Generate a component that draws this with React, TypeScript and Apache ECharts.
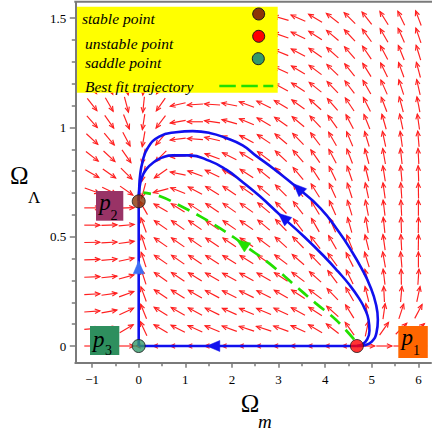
import React, { useEffect, useRef } from "react";
import * as echarts from "echarts";

// ---- direction field grid (Maple-style 20 x 20) ----
const fieldXs = [-1, -0.632, -0.263, 0.105, 0.474, 0.842, 1.211, 1.579, 1.947, 2.316, 2.684, 3.053, 3.421, 3.789, 4.158, 4.526, 4.895, 5.263, 5.632, 6];
const fieldYs = [0, 0.079, 0.158, 0.237, 0.316, 0.395, 0.474, 0.553, 0.632, 0.711, 0.789, 0.868, 0.947, 1.026, 1.105, 1.184, 1.263, 1.342, 1.421, 1.5];
// on-screen arrow angles in degrees (0 = right, 90 = up), one row per fieldYs value (bottom to top)
const fieldAngles = [
  [0, 0, 0, 180, 180, 180, 180, 180, 180, 180, 180, 180, 180, 180, 180, 180, 0, 0, 0, 0],
  [5, 12, 30, 115, 150, 153, 156, 158, 160, 162, 162, 160, 156, 150, 142, 125, 78, 55, 45, 40],
  [4, 10, 25, 112, 148, 150, 152, 154, 156, 157, 157, 155, 151, 147, 138, 122, 98, 82, 72, 62],
  [3, 8, 20, 110, 146, 148, 150, 152, 153, 154, 153, 150, 147, 143, 134, 120, 104, 93, 85, 78],
  [2, 6, 15, 108, 145, 146, 148, 150, 151, 151, 150, 147, 143, 138, 127, 116, 105, 97, 91, 86],
  [2, 5, 12, 108, 145, 145, 146, 147, 148, 148, 146, 143, 139, 134, 126, 117, 107, 100, 95, 90],
  [1, 3, 8, 108, 145, 145, 145, 146, 146, 146, 143, 138, 134, 128, 120, 112, 104, 98, 93, 89],
  [0, 2, 5, 110, 145, 145, 145, 145, 145, 145, 140, 134, 127, 120, 113, 106, 100, 96, 92, 89],
  [0, 0, 2, 120, 150, 148, 147, 146, 145, 145, 140, 134, 128, 121, 114, 107, 101, 97, 93, 90],
  [-20, -25, -35, 255, 195, 158, 152, 148, 146, 145, 140, 135, 128, 122, 115, 108, 102, 98, 94, 91],
  [-30, -35, -45, 258, 215, 168, 160, 154, 150, 147, 141, 135, 130, 123, 116, 109, 104, 99, 95, 92],
  [-38, -43, -55, 258, 225, 183, 170, 160, 153, 148, 143, 137, 131, 125, 118, 111, 105, 100, 96, 93],
  [-43, -50, -62, 260, 230, 187, 176, 167, 158, 152, 146, 140, 134, 127, 120, 113, 107, 102, 98, 95],
  [-48, -55, -68, 261, 233, 190, 180, 172, 164, 157, 150, 145, 140, 133, 126, 118, 112, 106, 102, 98],
  [-52, -60, -75, 264, 235, 193, 184, 176, 169, 160, 154, 149, 144, 138, 131, 124, 117, 111, 105, 101],
  [-55, -63, -77, 264, 237, 195, 186, 178, 171, 163, 157, 152, 147, 141, 134, 127, 120, 114, 108, 103],
  [-58, -65, -79, 264, 237, 197, 188, 180, 173, 166, 160, 155, 149, 143, 136, 129, 122, 116, 110, 105],
  [-60, -67, -81, 265, 237, 198, 189, 182, 175, 168, 162, 158, 152, 145, 138, 131, 124, 118, 112, 107],
  [-62, -69, -82, 265, 237, 199, 190, 183, 176, 170, 165, 161, 154, 147, 140, 133, 126, 120, 114, 109],
  [-63, -70, -83, 266, 237, 200, 191, 184, 178, 172, 167, 164, 156, 149, 142, 135, 128, 122, 116, 111],
];

// ---- trajectories ----
const innerTrajectory = [
  [4.68, 0], [4.8, 0.008], [4.9, 0.03], [4.95, 0.07], [4.93, 0.12], [4.85, 0.17], [4.72, 0.22],
  [4.52, 0.28], [4.28, 0.34], [4.0, 0.405], [3.55, 0.5], [3.03, 0.6], [2.6, 0.685], [2.2, 0.755],
  [1.87, 0.808], [1.52, 0.847], [1.09, 0.872], [0.73, 0.872], [0.5, 0.862], [0.35, 0.845],
  [0.16, 0.808], [0.06, 0.765], [0.015, 0.72], [0, 0.662],
];
const outerTrajectory = [
  [4.68, 0], [4.85, 0.004], [5.0, 0.02], [5.1, 0.06], [5.13, 0.12], [5.09, 0.19], [4.97, 0.27],
  [4.78, 0.355], [4.55, 0.44], [4.3, 0.52], [3.9, 0.63], [3.39, 0.726], [2.9, 0.81], [2.52, 0.87],
  [2.23, 0.918], [1.87, 0.952], [1.52, 0.975], [1.16, 0.983], [0.8, 0.978], [0.44, 0.958],
  [0.19, 0.905], [0.08, 0.84], [0.03, 0.78], [0.01, 0.72], [0, 0.662],
];
const axisTrajectory = [[4.68, 0], [0, 0]];
const verticalTrajectory = [[0, 0], [0, 0.662]];
const bestFitTrajectory = [
  [4.62, 0.03], [4.23, 0.12], [3.8, 0.195], [3.3, 0.287], [2.8, 0.378], [2.3, 0.456],
  [2.07, 0.493], [1.74, 0.539], [1.33, 0.592], [0.92, 0.638], [0.46, 0.685], [0.1, 0.702],
];
// arrowheads [x, y, on-screen angle]
const blueHeads = [[3.42, 0.722, 136], [3.1, 0.588, 140], [1.6, 0, 180]];
const lightBlueHeads = [[0, 0.36, 90]];
const greenHeads = [[2.22, 0.468, 145]];

// ---- critical points ----
const stablePoint = [0, 0.662];
const unstablePoint = [4.68, 0];
const saddlePoint = [0, 0];

// ---- ticks ----
const xMajorTicks = [-1, 0, 1, 2, 3, 4, 5, 6];
const xMinorTicks = [-0.5, 0.5, 1.5, 2.5, 3.5, 4.5, 5.5];
const yMajorTicks = [0, 0.5, 1, 1.5];
const yMinorTicks = [0.1, 0.2, 0.3, 0.4, 0.6, 0.7, 0.8, 0.9, 1.1, 1.2, 1.3, 1.4];

const legendLabels = ["stable point", "unstable point", "saddle point", "Best fit trajectory"];

const SERIF = "'Liberation Serif', 'Times New Roman', serif";

function headRenderer(color: string, len: number, half: number) {
  return (params: any, api: any) => {
    const c = api.coord([api.value(0), api.value(1)]);
    const a = (api.value(2) * Math.PI) / 180;
    const dx = Math.cos(a), dy = -Math.sin(a);
    const px = -dy, py = dx;
    const tip = [c[0] + dx * len * 0.5, c[1] + dy * len * 0.5];
    const back = [c[0] - dx * len * 0.5, c[1] - dy * len * 0.5];
    return {
      type: "polygon",
      shape: { points: [tip, [back[0] + px * half, back[1] + py * half], [back[0] - px * half, back[1] - py * half]] },
      style: { fill: color, stroke: color, lineWidth: 0.5 },
    };
  };
}

export default function App() {
  const ref = useRef<HTMLDivElement>(null);
  useEffect(() => {
    document.body.style.margin = "0";
    const chart = echarts.init(ref.current!, null, { renderer: "svg" });

    const fieldData: number[][] = [];
    fieldYs.forEach((y, r) => fieldXs.forEach((x, c) => fieldData.push([x, y, fieldAngles[r][c]])));

    const xMin = -1.36, xMax = 6.27, yMin = -0.0764, yMax = 1.574;
    const axisGray = "#7a7a7a";

    const option: any = {
      animation: false,
      grid: { left: 75.3, top: 2, width: 355.7, height: 360.7 },
      xAxis: [
        {
          type: "value", min: xMin, max: xMax,
          axisLine: { show: true, onZero: false, lineStyle: { color: axisGray, width: 2 } },
          axisTick: { show: true, customValues: xMajorTicks, length: 5, lineStyle: { color: axisGray, width: 1.5 } },
          axisLabel: {
            customValues: xMajorTicks, margin: 10, color: "#000", fontFamily: SERIF, fontSize: 13,
            formatter: (v: number) => (v < 0 ? "\u2212" + Math.abs(v) : String(v)),
          },
          splitLine: { show: false },
        },
        {
          type: "value", min: xMin, max: xMax, position: "bottom",
          axisLine: { show: false, onZero: false },
          axisTick: { show: true, customValues: xMinorTicks, length: 3.5, lineStyle: { color: axisGray, width: 1.5 } },
          axisLabel: { show: false },
          splitLine: { show: false },
        },
      ],
      yAxis: [
        {
          type: "value", min: yMin, max: yMax,
          axisLine: { show: true, onZero: false, lineStyle: { color: axisGray, width: 2 } },
          axisTick: { show: true, customValues: yMajorTicks, length: 5.5, lineStyle: { color: axisGray, width: 1.5 } },
          axisLabel: { customValues: yMajorTicks, margin: 9, color: "#000", fontFamily: SERIF, fontSize: 13 },
          splitLine: { show: false },
        },
        {
          type: "value", min: yMin, max: yMax, position: "left",
          axisLine: { show: false, onZero: false },
          axisTick: { show: true, customValues: yMinorTicks, length: 3.5, lineStyle: { color: axisGray, width: 1.5 } },
          axisLabel: { show: false },
          splitLine: { show: false },
        },
      ],
      series: [
        {
          type: "custom", name: "field", z: 2, data: fieldData, clip: false,
          renderItem: (params: any, api: any) => {
            const c = api.coord([api.value(0), api.value(1)]);
            const a = (api.value(2) * Math.PI) / 180;
            const dx = Math.cos(a), dy = -Math.sin(a);
            const L = 7.8;
            const tx = c[0] + dx * L, ty = c[1] + dy * L;
            const sx = c[0] - dx * L, sy = c[1] - dy * L;
            const h = 5, w = 2.2;
            const bx = tx - dx * h, by = ty - dy * h;
            const px = -dy, py = dx;
            const col = "#ff1f1f";
            return {
              type: "group",
              children: [
                { type: "line", shape: { x1: sx, y1: sy, x2: tx, y2: ty }, style: { stroke: col, lineWidth: 1.15 } },
                {
                  type: "polyline",
                  shape: { points: [[bx + px * w, by + py * w], [tx, ty], [bx - px * w, by - py * w]] },
                  style: { stroke: col, fill: null, lineWidth: 1.15 },
                },
              ],
            };
          },
        },
        {
          type: "line", name: "outer", z: 3, data: outerTrajectory, showSymbol: false, smooth: 0.5,
          lineStyle: { color: "#1010ee", width: 2.6 },
        },
        {
          type: "line", name: "inner", z: 3, data: innerTrajectory, showSymbol: false, smooth: 0.5,
          lineStyle: { color: "#1010ee", width: 2.6 },
        },
        {
          type: "line", name: "axis", z: 3, data: axisTrajectory, showSymbol: false,
          lineStyle: { color: "#1010ee", width: 2.6 },
        },
        {
          type: "line", name: "vertical", z: 3, data: verticalTrajectory, showSymbol: false,
          lineStyle: { color: "#1010ee", width: 2.6 },
        },
        {
          type: "line", name: "Best fit trajectory", z: 3, data: bestFitTrajectory, showSymbol: false, smooth: 0.4,
          lineStyle: { color: "#22e000", width: 2.7, type: [13, 8] },
        },
        { type: "custom", z: 4, data: blueHeads, renderItem: headRenderer("#1010ee", 13, 5.5) },
        { type: "custom", z: 4, data: lightBlueHeads, renderItem: headRenderer("#3d6ef5", 13, 5.5) },
        { type: "custom", z: 4, data: greenHeads, renderItem: headRenderer("#22e000", 13, 5.5) },
        {
          type: "scatter", z: 5, symbolSize: 13,
          data: [
            { value: stablePoint, itemStyle: { color: "#8b3406" } },
            { value: unstablePoint, itemStyle: { color: "#ff0000" } },
            { value: saddlePoint, itemStyle: { color: "#33996a" } },
          ],
          itemStyle: { borderColor: "#1a1a1a", borderWidth: 1 },
        },
      ],
      graphic: [
        { type: "line", z: 10, shape: { x1: 74.3, y1: 1.8, x2: 432, y2: 1.8 }, style: { stroke: axisGray, lineWidth: 2 } },
        // legend
        { type: "rect", z: 10, shape: { x: 77, y: 6.7, width: 200.7, height: 86 }, style: { fill: "#ffff00" } },
        { type: "text", z: 11, x: 82, y: 18.5, style: { text: legendLabels[0], fontFamily: SERIF, fontStyle: "italic", fontSize: 15.5, fill: "#000", textVerticalAlign: "middle" } },
        { type: "text", z: 11, x: 85, y: 43, style: { text: legendLabels[1], fontFamily: SERIF, fontStyle: "italic", fontSize: 15.5, fill: "#000", textVerticalAlign: "middle" } },
        { type: "text", z: 11, x: 85, y: 62, style: { text: legendLabels[2], fontFamily: SERIF, fontStyle: "italic", fontSize: 15.5, fill: "#000", textVerticalAlign: "middle" } },
        { type: "text", z: 11, x: 85, y: 86, style: { text: legendLabels[3], fontFamily: SERIF, fontStyle: "italic", fontSize: 15.5, fill: "#000", textVerticalAlign: "middle" } },
        { type: "circle", z: 11, shape: { cx: 258.7, cy: 14, r: 6 }, style: { fill: "#8b3406", stroke: "#1a1a1a", lineWidth: 1 } },
        { type: "circle", z: 11, shape: { cx: 258.7, cy: 36.3, r: 6 }, style: { fill: "#ff0000", stroke: "#1a1a1a", lineWidth: 1 } },
        { type: "circle", z: 11, shape: { cx: 258.3, cy: 58.7, r: 6 }, style: { fill: "#33996a", stroke: "#1a1a1a", lineWidth: 1 } },
        { type: "line", z: 11, shape: { x1: 219.3, y1: 86, x2: 273.3, y2: 86 }, style: { stroke: "#22e000", lineWidth: 2.5, lineDash: [16.5, 5.5] } },
        // point labels
        { type: "rect", z: 10, shape: { x: 398.3, y: 326, width: 29.5, height: 32 }, style: { fill: "#ff6600" } },
        { type: "text", z: 11, x: 401.5, y: 337.5, style: { text: "p", fontFamily: SERIF, fontStyle: "italic", fontSize: 23, fill: "#000", textVerticalAlign: "middle" } },
        { type: "text", z: 11, x: 413, y: 350.5, style: { text: "1", fontFamily: SERIF, fontSize: 14, fill: "#000", textVerticalAlign: "middle" } },
        { type: "rect", z: 10, shape: { x: 90, y: 326, width: 29.3, height: 29 }, style: { fill: "#2e8f5e" } },
        { type: "text", z: 11, x: 93, y: 339, style: { text: "p", fontFamily: SERIF, fontStyle: "italic", fontSize: 23, fill: "#000", textVerticalAlign: "middle" } },
        { type: "text", z: 11, x: 105, y: 350.5, style: { text: "3", fontFamily: SERIF, fontSize: 14, fill: "#000", textVerticalAlign: "middle" } },
        { type: "rect", z: 10, shape: { x: 96, y: 191, width: 27.3, height: 29.7 }, style: { fill: "#993366" } },
        { type: "text", z: 11, x: 99.3, y: 202.5, style: { text: "p", fontFamily: SERIF, fontStyle: "italic", fontSize: 23, fill: "#000", textVerticalAlign: "middle" } },
        { type: "text", z: 11, x: 110.5, y: 215.5, style: { text: "2", fontFamily: SERIF, fontSize: 14, fill: "#000", textVerticalAlign: "middle" } },
        // axis titles
        { type: "text", z: 11, x: 250, y: 403.5, style: { text: "\u03A9", fontFamily: SERIF, fontSize: 25, fill: "#000", textAlign: "center", textVerticalAlign: "middle" } },
        { type: "text", z: 11, x: 258, y: 421.5, style: { text: "m", fontFamily: SERIF, fontStyle: "italic", fontSize: 19, fill: "#000", textVerticalAlign: "middle" } },
        { type: "text", z: 11, x: 10, y: 175, style: { text: "\u03A9", fontFamily: SERIF, fontSize: 25, fill: "#000", textVerticalAlign: "middle" } },
        { type: "text", z: 11, x: 28, y: 197.5, style: { text: "\u039B", fontFamily: SERIF, fontSize: 17, fill: "#000", textVerticalAlign: "middle" } },
      ],
    };
    chart.setOption(option);
    return () => chart.dispose();
  }, []);
  return <div ref={ref} style={{ width: 432, height: 433 }} />;
}
